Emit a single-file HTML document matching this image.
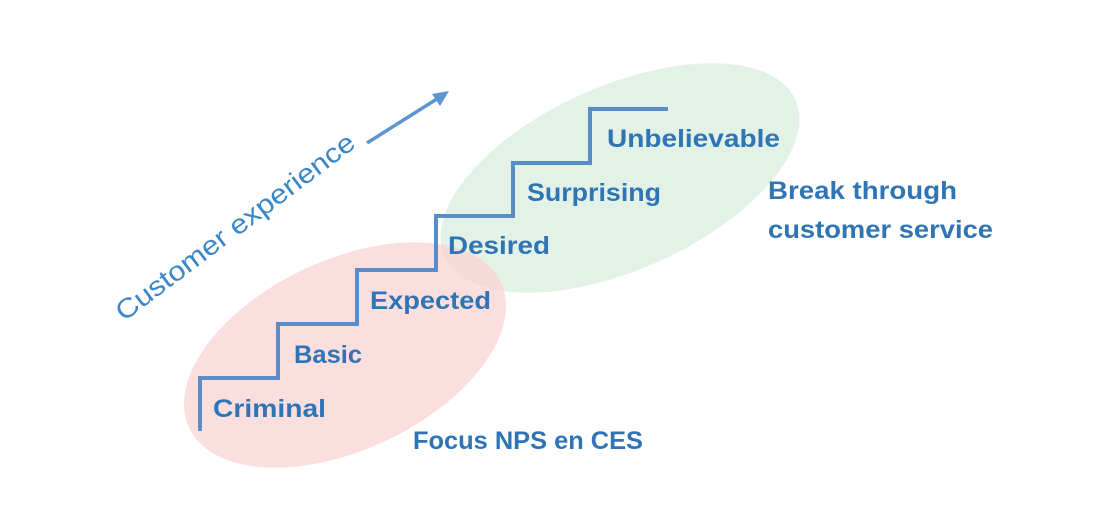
<!DOCTYPE html>
<html><head><style>
html,body{margin:0;padding:0;background:#fff;}
svg{display:block;}
text{font-family:"Liberation Sans",sans-serif;font-weight:bold;fill:#2f74b5;font-size:25px;}
</style></head><body>
<svg width="1094" height="506" viewBox="0 0 1094 506">
<ellipse cx="620" cy="178" rx="192" ry="92" transform="rotate(-24 620 178)" fill="#d8eedf" opacity="0.75"/>
<ellipse cx="345" cy="355" rx="172" ry="95" transform="rotate(-25 345 355)" fill="#f9d3d3" opacity="0.75"/>
<polyline points="200,431 200,378 278,378 278,324 357,324 357,270 436,270 436,216 513,216 513,163 590,163 590,109 668,109" fill="none" stroke="#5a8dc6" stroke-width="4"/>
<text x="213" y="417" textLength="113" lengthAdjust="spacingAndGlyphs">Criminal</text>
<text x="294" y="363" textLength="68" lengthAdjust="spacingAndGlyphs">Basic</text>
<text x="370" y="309" textLength="121" lengthAdjust="spacingAndGlyphs">Expected</text>
<text x="448" y="254" textLength="102" lengthAdjust="spacingAndGlyphs">Desired</text>
<text x="527" y="201" textLength="134" lengthAdjust="spacingAndGlyphs">Surprising</text>
<text x="607" y="147" textLength="173" lengthAdjust="spacingAndGlyphs">Unbelievable</text>
<text x="768" y="199" textLength="189" lengthAdjust="spacingAndGlyphs">Break through</text>
<text x="768" y="238" textLength="225" lengthAdjust="spacingAndGlyphs">customer service</text>
<text x="413" y="449" textLength="230" lengthAdjust="spacingAndGlyphs">Focus NPS en CES</text>
<text x="0" y="0" transform="translate(124,322) rotate(-37)" textLength="292" lengthAdjust="spacingAndGlyphs" style="font-weight:normal;font-size:27px;fill:#3b86c8">Customer experience</text>
<line x1="367" y1="143" x2="440" y2="97" stroke="#5b95d3" stroke-width="3.5"/>
<polygon points="449,91 432,94 440,106" fill="#5b95d3"/>
</svg>
</body></html>
